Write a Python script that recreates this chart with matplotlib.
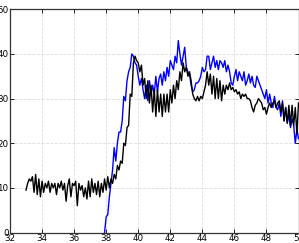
import numpy as np
import matplotlib
matplotlib.use("Agg")
import matplotlib.pyplot as plt

black_start = 33.0
black_vals = [
    9.5, 11, 12, 11.5, 12.5, 9, 13, 8.5, 12, 8,
    11.5, 9, 11, 10, 11.5, 9, 11, 10, 11, 8.5,
    11, 10, 11.5, 9.5, 11, 7, 10.5, 12, 8, 11,
    10.5, 11.5, 6, 11, 9.5, 10.5, 8, 10, 7.5, 11.5,
    8, 12, 9, 11, 8.5, 11.5, 8, 11, 9, 12,
    9.5, 12.5, 10, 12, 11, 13, 12, 15, 14, 16,
    15.5, 20, 19.5, 23.5, 24, 31, 30.5, 38, 39.5, 38.5,
    38, 36, 37.5, 33, 34.5, 30, 34, 29, 33, 27,
    32, 26, 32, 27, 31, 26, 31, 27, 31, 27,
    32, 29, 33, 30, 34, 32, 36, 34, 38, 36,
    37, 35, 36, 34, 31, 30, 29.5, 30.5, 29.5, 30.5,
    30, 31.5, 33, 36, 33, 35.5, 31, 35, 30, 34.5,
    30, 34, 29.5, 33, 31, 33, 32, 33.5, 32, 32.5,
    31.5, 32, 31, 31.5, 30, 31, 30.5, 31, 30, 30,
    29.5, 28, 27, 28.5, 29, 30, 29.5, 29, 27.5, 28,
    26.5, 28, 29, 28, 29, 29.5, 28, 29, 29.5, 27,
    29, 25, 28, 24.5, 28.5, 24, 28.5, 24, 28, 22,
    29,
]

blue_start = 37.9
blue_vals = [
    0, 3.5, 4, 8, 11, 14, 19, 16, 20, 22.5,
    22.5, 25, 30.5, 29.5, 34, 36, 37, 40, 39.5, 38,
    37.5, 35, 33, 34.5, 32, 30, 33, 29.5, 34, 31,
    33, 31, 35, 31.5, 34.5, 35.5, 33, 36, 34, 37,
    35, 38.5, 37.5, 36.5, 39.5, 38, 43, 40, 37.5, 39.5,
    41.5, 37, 36, 35.5, 33, 31.5, 32, 33.5, 33.5, 34,
    35, 37, 36, 36.5, 39.5, 39.5, 36.5, 38, 39.5, 37,
    38.5, 36.5, 38.5, 38, 37, 38.5, 36, 37.5, 36, 33.5,
    33, 35, 36.5, 34, 36, 35, 34, 36, 33, 34,
    35.5, 33.5, 35, 33, 32.5, 35, 34, 33, 32, 31,
    30, 32, 29, 31, 29, 28, 30.5, 28, 27.5, 29,
    26, 29.5, 25, 28, 24.5, 26.5, 23.5, 25.5, 24, 20,
    23, 21,
]

step = 0.1
bx = black_start + step * np.arange(len(black_vals))
ux = blue_start + step * np.arange(len(blue_vals))

fig = plt.figure(figsize=(2.99, 2.43), dpi=100)
ax = fig.add_axes([10 / 299, 1 - 232.5 / 243, 288.5 / 299, (232.5 - 9.3) / 243])
ax.plot(ux, blue_vals, color="#0000ff", lw=1.0)
ax.plot(bx, black_vals, color="black", lw=1.0)
ax.set_xlim(32, 50)
ax.set_ylim(0, 50)
ax.set_xticks(np.arange(32, 51, 2))
ax.set_yticks(np.arange(0, 51, 10))
ax.grid(True, color="#dddddd", linestyle="--", lw=0.6)
ax.tick_params(direction="in", labelsize=6.3, length=3, width=0.6,
               top=True, right=True, pad=1)
for s in ax.spines.values():
    s.set_linewidth(0.9)
    s.set_color("#333333")
fig.savefig("out.png", dpi=100)
